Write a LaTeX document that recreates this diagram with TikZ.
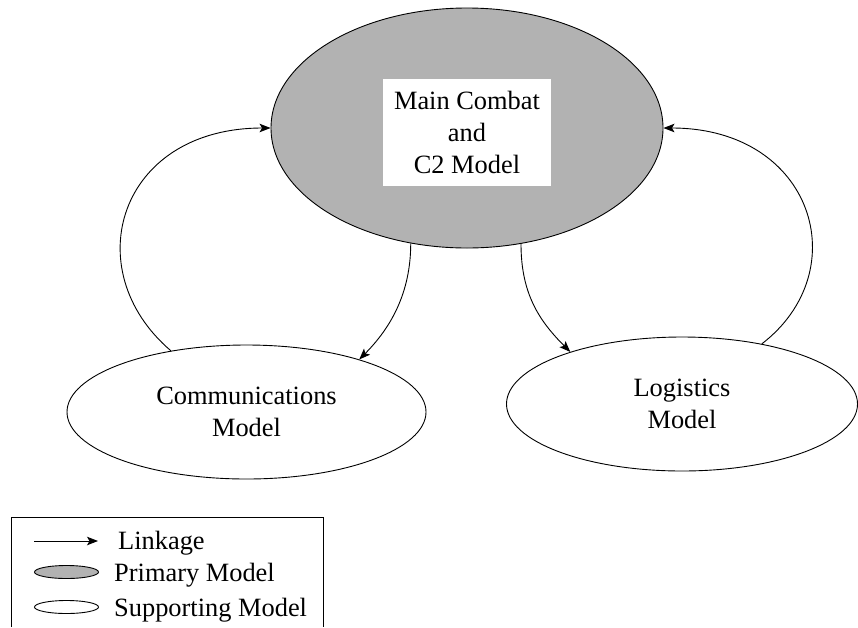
\documentclass[tikz,border=0pt]{standalone}
\usepackage{fontspec}
\setmainfont{Liberation Serif}
\usetikzlibrary{shapes.geometric,arrows.meta}
\definecolor{primgray}{RGB}{178,178,178}
\tikzset{
  every node/.style={font=\fontsize{26.4}{32}\selectfont},
  model/.style={ellipse, draw=black, line width=0.9pt, inner sep=0pt, align=center},
  primary/.style={model, fill=primgray},
  supporting/.style={model, fill=white},
  link/.style={line width=0.9pt, -{Stealth[length=11pt,width=8.5pt,inset=2.5pt]}},
  legtext/.style={anchor=base west, inner sep=0pt},
}
\begin{document}
\begin{tikzpicture}[x=1pt,y=-1pt]
\useasboundingbox (0,0) rectangle (858,627);
% main model
\node[primary, minimum width=392pt, minimum height=240pt] (main) at (467,128) {};
\node[fill=white, inner sep=0pt, minimum width=168pt, minimum height=107pt, align=center] (maintext) at (467,132.5) {Main Combat\\and\\C2 Model};
% supporting models
\node[supporting, minimum width=359pt, minimum height=134pt] (comm) at (246.5,412) {Communications\\Model};
\node[supporting, minimum width=351pt, minimum height=134pt] (log) at (682,404) {Logistics\\Model};
% linkages
\draw[link] (comm.141) .. controls +(-95,-81) and +(-152,0) .. (main.west);
\draw[link] (log.37) .. controls +(95,-73) and +(150,0) .. (main.east);
\draw[link] (main.244) .. controls +(0,50) and +(31,-31) .. (comm.25);
\draw[link] (main.295) .. controls +(0,50) and +(-31,-31) .. (log.155);
% legend
\coordinate (lbl) at (11,627);
\coordinate (ltl) at (11,517);
\coordinate (ltr) at (323,517);
\coordinate (lbr) at (323,627);
\draw[line width=0.9pt] (lbl) -- (ltl) -- (ltr) -- (lbr);
\coordinate (la) at (34,541);
\coordinate (lb) at (98,541);
\draw[link] (la) -- (lb);
\node[legtext] (lt1) at (118,549) {Linkage};
\node[primary, minimum width=64pt, minimum height=13pt] (lp) at (66.5,572) {};
\node[legtext] (lt2) at (114,581) {Primary Model};
\node[supporting, minimum width=64pt, minimum height=13pt] (ls) at (66.5,607) {};
\node[legtext] (lt3) at (114,616) {Supporting Model};
\end{tikzpicture}
\end{document}
